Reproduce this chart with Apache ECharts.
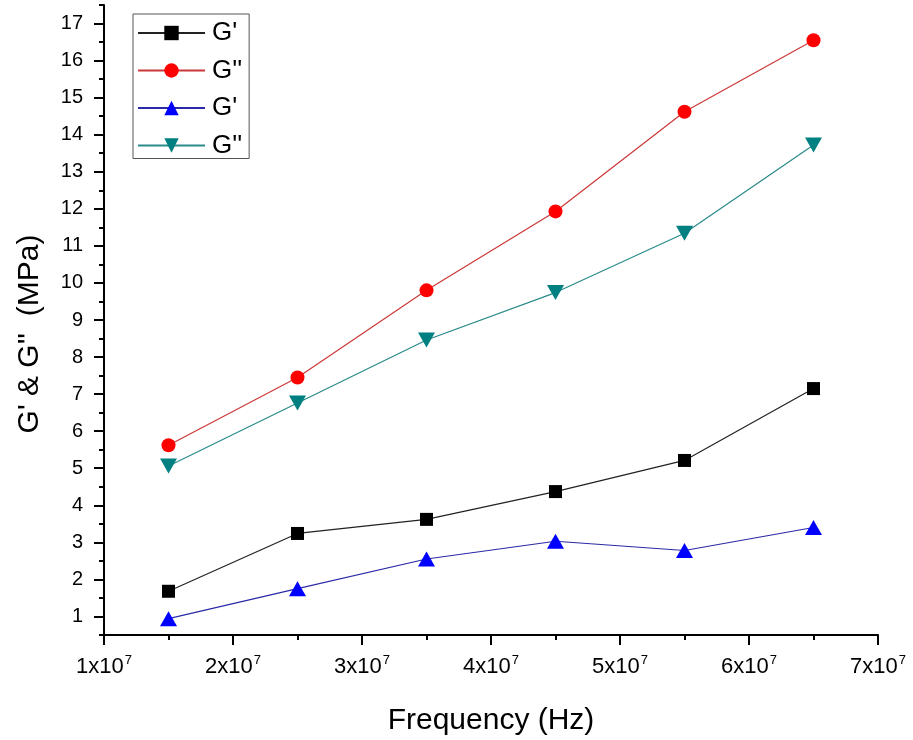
<!DOCTYPE html>
<html>
<head>
<meta charset="utf-8">
<script src="https://cdn.jsdelivr.net/npm/echarts@6/dist/echarts.min.js"></script>
<style>
html,body{margin:0;padding:0;background:#fff;}
#chart{width:913px;height:740px;}
</style>
</head>
<body>
<div id="chart"></div>
<script>
// ---- data ----
var frequency = [1.5e7, 2.5e7, 3.5e7, 4.5e7, 5.5e7, 6.5e7];
var gPrime1   = [1.68, 3.24, 3.62, 4.37, 5.21, 7.15];
var gDouble1  = [5.62, 7.45, 9.80, 11.93, 14.62, 16.55];
var gPrime2   = [0.94, 1.75, 2.55, 3.03, 2.78, 3.40];
var gDouble2  = [5.06, 6.76, 8.46, 9.74, 11.34, 13.72];
var seriesLabels = ["G'", "G''", "G'", "G''"];
var xTicks = [1, 2, 3, 4, 5, 6, 7];           // x 10^7
var yTicks = [1,2,3,4,5,6,7,8,9,10,11,12,13,14,15,16,17];

function pairs(ys){ return frequency.map(function(x,i){ return [x, ys[i]]; }); }
var yMinor = yTicks.map(function(v){ return v - 0.5; }).concat([yTicks[yTicks.length-1] + 0.5]);

var names = seriesLabels.map(function(l, i){ return l + '#' + i; });
var font = 'Arial, "Liberation Sans", Helvetica, sans-serif';
var downTri = 'path://M0,0L10,0L5,8.66Z';

var chart = echarts.init(document.getElementById('chart'), null, {renderer:'canvas'});
var option = {
  animation: false,
  backgroundColor: '#fff',
  textStyle: {fontFamily: font},
  grid: {left: 104, right: 35, top: 5, bottom: 105, containLabel: false, outerBoundsMode: 'none'},
  legend: {
    orient: 'vertical',
    left: 133, top: 14,
    data: names,
    formatter: function(n){ return n.split('#')[0]; },
    itemWidth: 67, itemHeight: 18, itemGap: 11.5,
    padding: [6, 7, 0, 4],
    borderColor: '#555', borderWidth: 1,
    textStyle: {fontSize: 26, lineHeight: 26, color: '#000', fontFamily: font, padding: [0,0,0,2]}
  },
  xAxis: {
    type: 'value', min: xTicks[0]*1e7, max: xTicks[xTicks.length-1]*1e7, interval: 1e7,
    name: 'Frequency (Hz)', nameLocation: 'middle', nameGap: 71,
    nameTextStyle: {fontSize: 30, color: '#000', fontFamily: font},
    axisLine: {show: true, lineStyle: {color: '#000', width: 2}},
    axisTick: {show: true, length: 10, inside: false, lineStyle: {color: '#000', width: 2}},
    minorTick: {show: true, splitNumber: 2, length: 5, lineStyle: {color: '#000', width: 2}},
    splitLine: {show: false},
    axisLabel: {
      margin: 19,
      formatter: function(v){ return '{b|' + Math.round(v/1e7) + 'x10}{s|7}'; },
      rich: {
        b: {fontSize: 22, color: '#000', fontFamily: font},
        s: {fontSize: 13, color: '#000', fontFamily: font, padding: [0,0,13,1]}
      }
    }
  },
  yAxis: [{
    type: 'value', min: 0.5, max: 17.5,
    position: 'left',
    name: "G' & G''  (MPa)", nameLocation: 'middle', nameGap: 59,
    nameTextStyle: {fontSize: 30, color: '#000', fontFamily: font, padding: [0, 28, 0, 0]},
    axisLine: {show: true, lineStyle: {color: '#000', width: 2}},
    axisTick: {show: true, length: 10, customValues: yTicks, lineStyle: {color: '#000', width: 2}},
    axisLabel: {margin: 21, fontSize: 20, color: '#000', fontFamily: font, customValues: yTicks},
    splitLine: {show: false}
  }, {
    type: 'value', min: 0.5, max: 17.5,
    position: 'left', offset: 0,
    axisLine: {show: false},
    axisTick: {show: true, length: 5, customValues: yMinor, lineStyle: {color: '#000', width: 2}},
    axisLabel: {show: false},
    splitLine: {show: false}
  }],
  series: [
    {name: names[0], type: 'line', yAxisIndex: 0, data: pairs(gPrime1),
     symbol: 'rect', symbolSize: 13,
     itemStyle: {color: '#000'}, lineStyle: {color: '#222', width: 1.2}},
    {name: names[1], type: 'line', yAxisIndex: 0, data: pairs(gDouble1),
     symbol: 'circle', symbolSize: 14,
     itemStyle: {color: '#ff0000'}, lineStyle: {color: '#cc3838', width: 1.2}},
    {name: names[2], type: 'line', yAxisIndex: 0, data: pairs(gPrime2),
     symbol: 'triangle', symbolSize: [17, 15],
     itemStyle: {color: '#0000ff'}, lineStyle: {color: '#2a2aa8', width: 1.2}},
    {name: names[3], type: 'line', yAxisIndex: 0, data: pairs(gDouble2),
     symbol: downTri, symbolSize: [17, 15],
     itemStyle: {color: '#008080'}, lineStyle: {color: '#2a8a8a', width: 1.2}}
  ]
};
chart.setOption(option);
</script>
</body>
</html>
